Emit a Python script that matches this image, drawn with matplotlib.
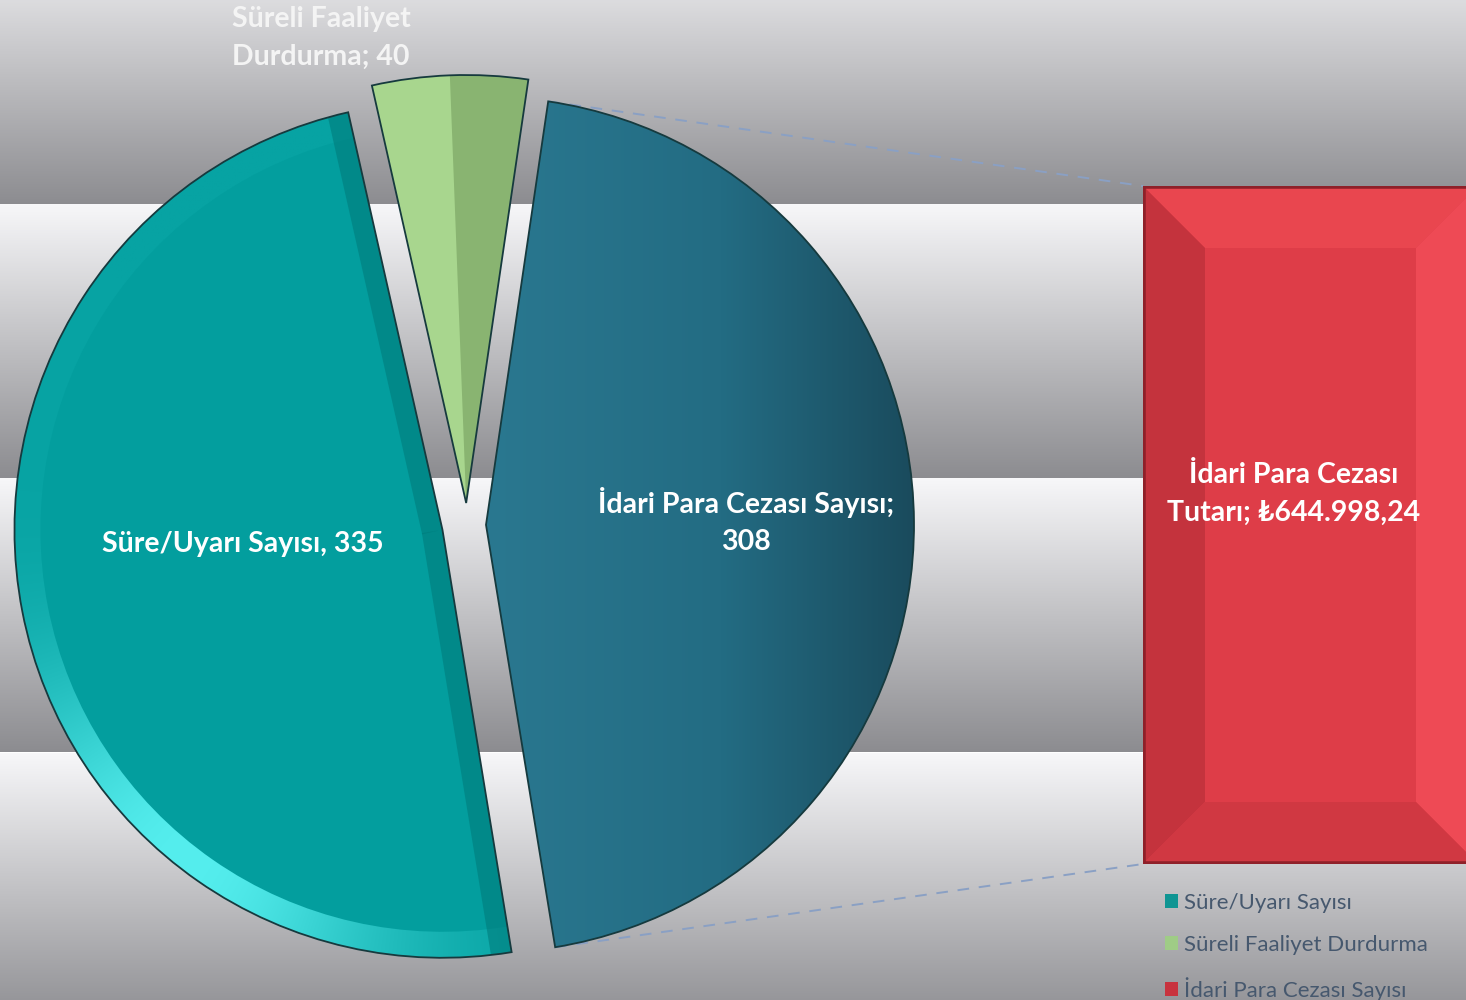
import matplotlib
matplotlib.use("Agg")
import matplotlib.pyplot as plt
import numpy as np
from matplotlib.colors import to_rgb
from matplotlib.patches import Patch, Polygon, Wedge

plt.rcParams["font.family"] = ["Lato", "DejaVu Sans"]

# --- data -----------------------------------------------------------------
pie_labels = ["Süre/Uyarı Sayısı", "Süreli Faaliyet Durdurma", "İdari Para Cezası Sayısı"]
pie_values = [335, 40, 308]
bar_label = "İdari Para Cezası Tutarı"
bar_value = 644998.24

W, H = 1466, 1000
slice_colors = ["#039e9e", "#a8d68e", "#246f86"]
legend_colors = ["#0f9593", "#9fcc86", "#c8333e"]


def tr_money(v):
    s = f"{v:,.2f}"
    return "₺" + s.replace(",", "#").replace(".", ",").replace("#", ".")


def grad(stops, n=256, horizontal=False):
    # stops: list of (pos, colour)
    t = np.linspace(0, 1, n)
    pos = [p for p, _ in stops]
    cols = np.array([to_rgb(c) for _, c in stops])
    g = np.stack([np.interp(t, pos, cols[:, k]) for k in range(3)], axis=1)
    return g[None, :, :] if horizontal else g[:, None, :]


fig = plt.figure(figsize=(W / 100, H / 100), dpi=100)
ax = fig.add_axes([0, 0, 1, 1])

# background: four horizontal gradient bands (white on top -> grey at bottom)
band_tops = [1069, 796, 522, 247]
band_h = 274
for top in band_tops:
    ax.imshow(grad([(0, "#f7f7f9"), (1, "#8c8c90")]), extent=[0, W, top - band_h, top],
              aspect="auto", zorder=0, interpolation="bilinear")

# pie (explode is in data units here, radius is in pixels)
cx, cy, r = 467, H - 525, 428
wedges, _ = ax.pie(pie_values, startangle=-80.7, counterclock=False,
                   explode=[25, 22, 19], center=(cx, cy), radius=r,
                   colors=slice_colors, wedgeprops=dict(linewidth=0))
for w in wedges:
    w.set_zorder(2)
sure, green, idari = wedges

# Süre: light cyan rim, brightest towards the lower left
x0, y0 = sure.center
n = 300
gx_, gy_ = np.meshgrid(np.linspace(-1, 1, n), np.linspace(1, -1, n))
ang = np.arctan2(gy_, gx_)
wgt = np.clip(np.cos(ang - np.deg2rad(-128)), 0, 1) ** 7
base, hi = np.array(to_rgb("#07a3a3")), np.array(to_rgb("#55eeee"))
rim_img = base + (hi - base) * wgt[..., None]
im = ax.imshow(rim_img, extent=[x0 - r, x0 + r, y0 - r, y0 + r], aspect="auto",
               zorder=3, interpolation="bilinear")
rim = Wedge(sure.center, r, sure.theta1, sure.theta2, width=26,
            transform=ax.transData, facecolor="none", edgecolor="none")
ax.add_patch(rim)
im.set_clip_path(rim)
# darker bevel along the straight edges
for th in (sure.theta1, sure.theta2):
    a = np.deg2rad(th)
    ln, = ax.plot([x0, x0 + r * np.cos(a)], [y0, y0 + r * np.sin(a)],
                  color="#007c7c", lw=30, alpha=0.6, zorder=3, solid_capstyle="butt")
    ln.set_clip_path(sure)

# İdari: darker towards the right
x0, y0 = idari.center
im = ax.imshow(grad([(0, "#2a7890"), (0.55, "#236c83"), (1, "#1a4b5d")], horizontal=True),
               extent=[x0, x0 + r, y0 - r, y0 + r], aspect="auto", zorder=3,
               interpolation="bilinear")
im.set_clip_path(idari)

# green slice: darker right half
gx, gy = green.center
mid = np.deg2rad((green.theta1 + green.theta2) / 2)
t = np.linspace(np.deg2rad(green.theta1), mid, 30)
half = [(gx, gy)] + [(gx + r * np.cos(a), gy + r * np.sin(a)) for a in t]
ax.add_patch(Polygon(half, closed=True, facecolor="#89b471", edgecolor="none", zorder=3))

for w in wedges:
    ax.add_patch(Wedge(w.center, r, w.theta1, w.theta2, facecolor="none",
                       edgecolor="#163a3e", linewidth=1.3, zorder=4))

ax.set_xlim(0, W)
ax.set_ylim(0, H)
ax.set_aspect("equal")
ax.axis("off")

# secondary bar
bx0, bx1, by0, by1 = 1143, 1478, 136, 814
bax = fig.add_axes([bx0 / W, by0 / H, (bx1 - bx0) / W, (by1 - by0) / H])
bax.bar(0, bar_value, width=1, color="#de3d48", linewidth=0)
bax.set_xlim(-0.5, 0.5)
bax.set_ylim(0, bar_value)
bax.axis("off")
bw = 62 / (bx1 - bx0)
bh = 62 / (by1 - by0)
bevels = [
    ([(0, 1), (1, 1), (1 - bw, 1 - bh), (bw, 1 - bh)], "#e9464f"),
    ([(0, 0), (bw, bh), (bw, 1 - bh), (0, 1)], "#c4333d"),
    ([(1, 0), (1, 1), (1 - bw, 1 - bh), (1 - bw, bh)], "#ee4a55"),
    ([(0, 0), (1, 0), (1 - bw, bh), (bw, bh)], "#d03842"),
]
for pts, c in bevels:
    bax.add_patch(Polygon(pts, closed=True, transform=bax.transAxes,
                          facecolor=c, edgecolor="none", zorder=3))
bax.add_patch(plt.Rectangle((0, 0), 1, 1, transform=bax.transAxes, fill=False,
                            edgecolor="#8f2029", linewidth=4, zorder=4))
bax.text((1294 - bx0) / (bx1 - bx0), (864 - 494) / (by1 - by0),
         f"İdari Para Cezası\n{bar_label.split()[-1]}; {tr_money(bar_value)}",
         transform=bax.transAxes, ha="center", va="center", color="white",
         fontsize=20.5, fontweight="bold", linespacing=1.55, zorder=5)

# connector lines from the split slice to the bar
ix, iy = idari.center
for th, by in [(idari.theta2, by1), (idari.theta1, by0)]:
    a = np.deg2rad(th)
    ax.plot([ix + r * np.cos(a), bx0], [iy + r * np.sin(a), by],
            color="#8aa0c4", lw=1.4, dashes=(6, 5), zorder=1)

# data labels
lab_kw = dict(ha="center", va="center", fontsize=20.5, fontweight="bold",
              linespacing=1.55, zorder=6)
ax.text(243, H - 544, f"{pie_labels[0]}, {pie_values[0]}", color="white", **lab_kw)
ax.text(321, H - 38, f"Süreli Faaliyet\nDurdurma; {pie_values[1]}", color="#f4f4f4", **lab_kw)
ax.text(746, H - 521, f"{pie_labels[2]};\n{pie_values[2]}", color="white", **lab_kw)

# legend
handles = [Patch(facecolor=c, edgecolor="none") for c in legend_colors]
fig.legend(handles, pie_labels, loc="upper left", bbox_to_anchor=(1154 / W, 1 - 882 / H),
           frameon=False, fontsize=16, labelcolor="#46586e", handlelength=0.6,
           handleheight=0.6, handletextpad=0.25, labelspacing=0.98, borderpad=0)

fig.savefig("out.png", dpi=100)
